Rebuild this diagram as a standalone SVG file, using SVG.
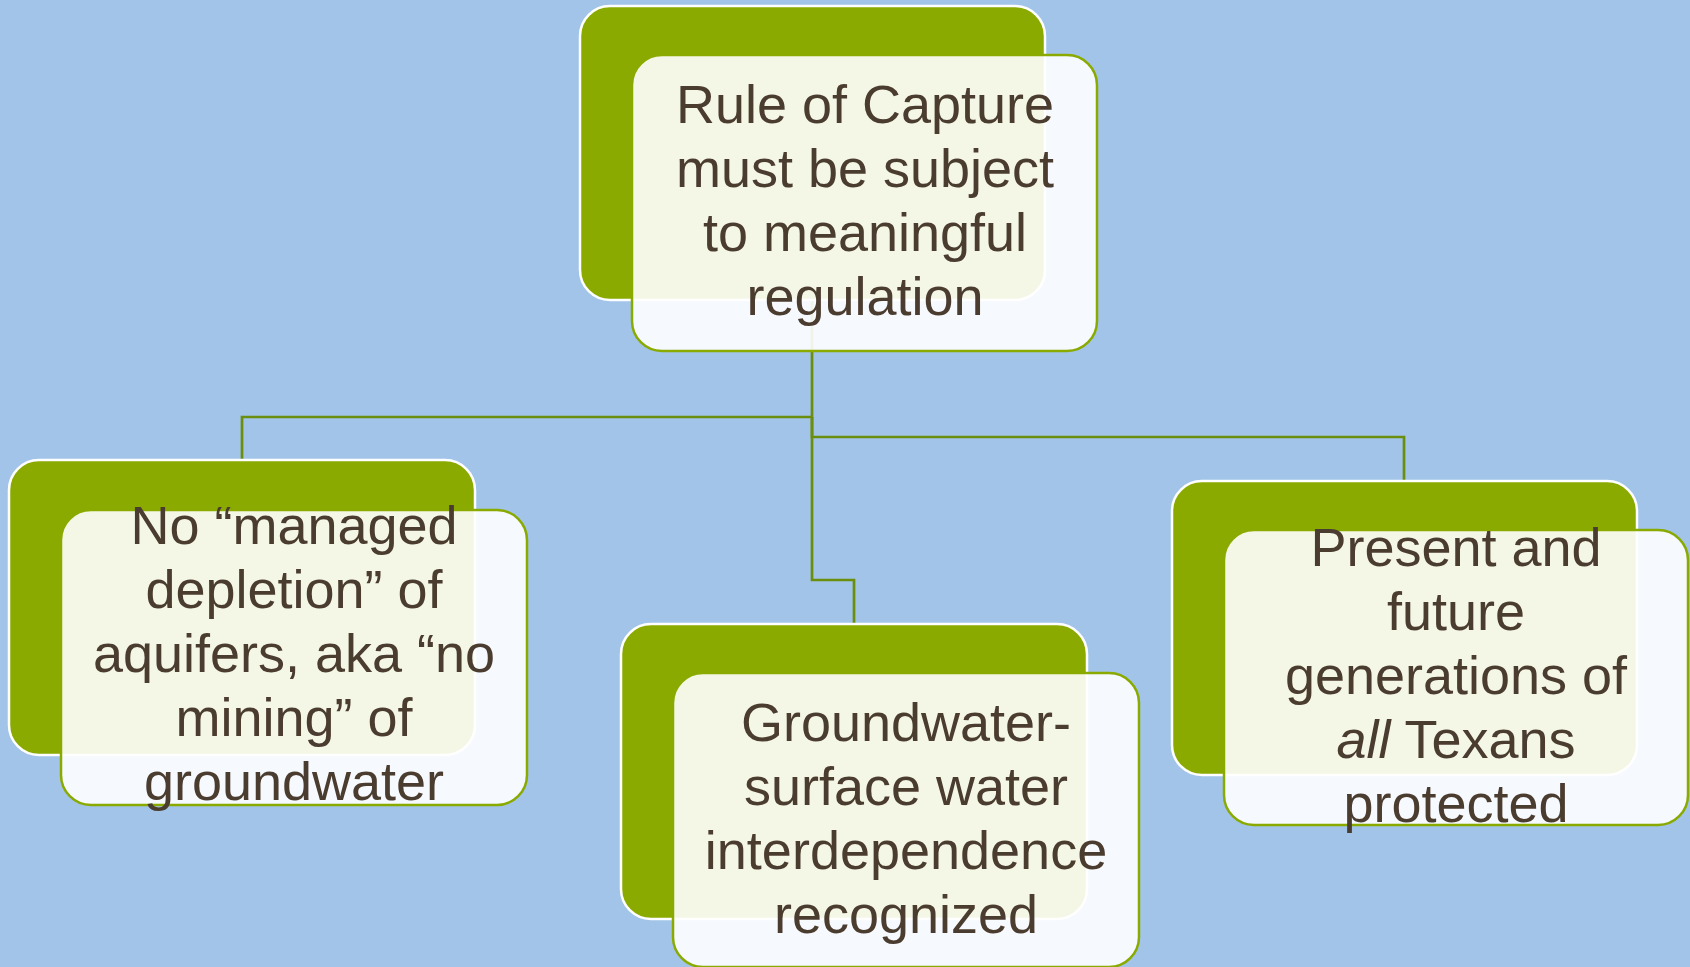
<svg xmlns="http://www.w3.org/2000/svg" width="1690" height="967" viewBox="0 0 1690 967">
<style>
.bg{fill:#a1c4e8}
.back{fill:#8aaa00;stroke:#ffffff;stroke-width:2.5}
.front{fill:#ffffff;fill-opacity:0.9;stroke:#8aaa00;stroke-width:2.5}
.conn{fill:none;stroke:#6b8e0f;stroke-width:2.7}
text{font-family:"Liberation Sans",Arial,sans-serif;font-size:54px;fill:#4b3c30;text-anchor:middle}
</style>
<rect class="bg" x="0" y="0" width="1690" height="967"/>
<g id="connectors">
<path class="conn" d="M812,300 V417 H242 V461"/>
<path class="conn" d="M812,417 V580 H854 V624"/>
<path class="conn" d="M812,417 V437 H1404 V481"/>
</g>
<g id="node-top">
<rect class="back" x="580" y="6" width="465" height="294" rx="30"/>
<rect class="front" x="632" y="55" width="465" height="296" rx="30"/>
<text x="865" y="123">Rule of Capture</text>
<text x="865" y="187">must be subject</text>
<text x="865" y="251">to meaningful</text>
<text x="865" y="315">regulation</text>
</g>
<g id="node-left">
<rect class="back" x="9" y="460" width="466" height="295" rx="30"/>
<rect class="front" x="61" y="510" width="466" height="295" rx="30"/>
<text x="294" y="544">No “managed</text>
<text x="294" y="608">depletion” of</text>
<text x="294" y="672">aquifers, aka “no</text>
<text x="294" y="736">mining” of</text>
<text x="294" y="800">groundwater</text>
</g>
<g id="node-middle">
<rect class="back" x="621" y="624" width="466" height="295" rx="30"/>
<rect class="front" x="673" y="673" width="466" height="294" rx="30"/>
<text x="906" y="741">Groundwater-</text>
<text x="906" y="805">surface water</text>
<text x="906" y="869">interdependence</text>
<text x="906" y="933">recognized</text>
</g>
<g id="node-right">
<rect class="back" x="1172" y="481" width="465" height="294" rx="30"/>
<rect class="front" x="1224" y="530" width="464" height="295" rx="30"/>
<text x="1456" y="566">Present and</text>
<text x="1456" y="630">future</text>
<text x="1456" y="694">generations of</text>
<text x="1456" y="758"><tspan font-style="italic">all</tspan> Texans</text>
<text x="1456" y="822">protected</text>
</g>
</svg>
